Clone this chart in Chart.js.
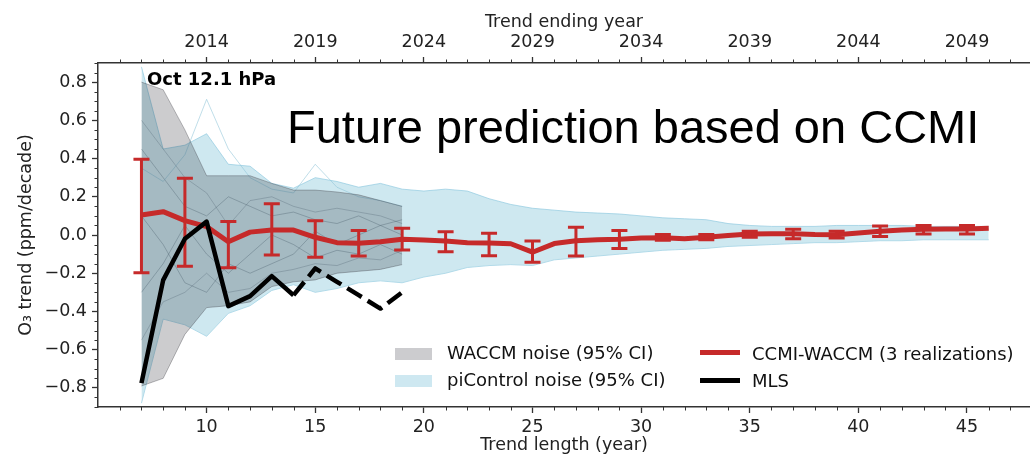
<!DOCTYPE html>
<html>
<head>
<meta charset="utf-8">
<script src="https://cdn.jsdelivr.net/npm/chart.js@4.4.1/dist/chart.umd.min.js"></script>
<style>
  html, body { margin: 0; padding: 0; background: #fff; }
  #wrap { position: relative; width: 1030px; height: 461px; overflow: hidden; }
  #wrap canvas { position: absolute; left: 0; top: 0; }
  .note { position: absolute; white-space: nowrap; color: #000; }
  #panel { left: 147px; top: 70px; font: bold 18px/18px "DejaVu Sans"; }
  #headline { left: 287px; top: 103px; font: 47px/47px "Liberation Sans", Arial, sans-serif; }
  .leg { position: absolute; white-space: nowrap; font: 18px/20px "DejaVu Sans"; color: #111; }
  .sw { position: absolute; }
</style>
</head>
<body>
<div id="wrap">
  <canvas id="ozoneChart" width="1030" height="461"></canvas>
  <div class="note" id="panel">Oct 12.1 hPa</div>
  <div class="note" id="headline">Future prediction based on CCMI</div>

  <div class="sw" style="left:395px;top:348px;width:37px;height:12px;background:rgb(204,204,207)"></div>
  <div class="leg" style="left:447px;top:343px">WACCM noise (95% CI)</div>
  <div class="sw" style="left:395px;top:375px;width:37px;height:12px;background:rgb(206,232,241)"></div>
  <div class="leg" style="left:447px;top:370px">piControl noise (95% CI)</div>

  <div class="sw" style="left:700px;top:350px;width:40px;height:5px;background:#c62a2a"></div>
  <div class="leg" style="left:752px;top:344px">CCMI-WACCM (3 realizations)</div>
  <div class="sw" style="left:700px;top:378px;width:40px;height:5px;background:#000"></div>
  <div class="leg" style="left:752px;top:371px">MLS</div>
</div>

<script>
// trend length (years) and values, ppm/decade
const trendLength = [7, 8, 9, 10, 11, 12, 13, 14, 15, 16, 17, 18, 19, 20, 21, 22, 23, 24, 25, 26,
                     27, 28, 29, 30, 31, 32, 33, 34, 35, 36, 37, 38, 39, 40, 41, 42, 43, 44, 45, 46];

const ccmiWaccm = [0.105, 0.122, 0.075, 0.044, -0.035, 0.015, 0.026, 0.026, -0.012, -0.04,
                   -0.043, -0.035, -0.022, -0.026, -0.032, -0.04, -0.042, -0.046, -0.09, -0.045,
                   -0.03, -0.025, -0.022, -0.016, -0.014, -0.02, -0.012, -0.003, 0.005, 0.006,
                   0.006, 0.002, 0.001, 0.01, 0.02, 0.026, 0.03, 0.031, 0.031, 0.035];

const errLength = [7, 9, 11, 13, 15, 17, 19, 21, 23, 25, 27, 29, 31, 33, 35, 37, 39, 41, 43, 45];
const errLow  = [-0.198, -0.163, -0.171, -0.105, -0.117, -0.11, -0.079, -0.088, -0.108, -0.143,
                 -0.11, -0.07, -0.028, -0.025, -0.012, -0.019, -0.016, -0.008, 0.005, 0.005];
const errHigh = [0.397, 0.297, 0.07, 0.163, 0.075, 0.023, 0.035, 0.017, 0.009, -0.031,
                 0.04, 0.023, 0.003, 0.002, 0.019, 0.03, 0.019, 0.047, 0.05, 0.05];

const mlsLength = [7, 8, 9, 10, 11, 12, 13, 14];
const mlsSolid = [-0.775, -0.236, -0.02, 0.07, -0.372, -0.32, -0.215, -0.315];
const mlsDashLength = [14, 15, 16, 17, 18, 19];
const mlsDashed = [-0.315, -0.175, -0.245, -0.315, -0.385, -0.30];

const waccmLength = [7, 8, 9, 10, 11, 12, 13, 14, 15, 16, 17, 18, 19];
const waccmUpper = [0.80, 0.76, 0.55, 0.31, 0.31, 0.31, 0.27, 0.235, 0.235, 0.225, 0.21, 0.18, 0.15];
const waccmLower = [-0.79, -0.75, -0.52, -0.38, -0.37, -0.35, -0.27, -0.245, -0.235, -0.2, -0.19, -0.18, -0.155];

const piUpper = [0.88, 0.45, 0.47, 0.53, 0.37, 0.36, 0.27, 0.245, 0.30, 0.28,
                 0.25, 0.27, 0.24, 0.23, 0.24, 0.23, 0.19, 0.16, 0.14, 0.13,
                 0.12, 0.115, 0.11, 0.10, 0.09, 0.085, 0.08, 0.06, 0.05, 0.045,
                 0.045, 0.045, 0.05, 0.05, 0.05, 0.05, 0.045, 0.045, 0.045, 0.045];
const piLower = [-0.88, -0.44, -0.47, -0.53, -0.41, -0.37, -0.29, -0.26, -0.30, -0.28,
                 -0.25, -0.24, -0.25, -0.22, -0.20, -0.17, -0.16, -0.155, -0.16, -0.13,
                 -0.12, -0.11, -0.10, -0.09, -0.08, -0.075, -0.07, -0.06, -0.055, -0.05,
                 -0.045, -0.04, -0.04, -0.035, -0.03, -0.03, -0.025, -0.025, -0.025, -0.025];

// a few of the faint single-member lines behind the bands
const memberLength = [7, 8, 9, 10, 11, 12, 13, 14, 15, 16, 17, 18, 19];
const memberPeak = [0.35, 0.28, 0.42, 0.71, 0.45, 0.30, 0.24, 0.22, 0.37, 0.25, 0.20, 0.18, 0.15];
const memberA = [0.45, 0.30, 0.15, 0.10, 0.20, 0.15, 0.10, 0.12, 0.08, 0.06, 0.10, 0.05, 0.08];
const memberB = [-0.30, -0.15, 0.05, -0.10, -0.20, -0.10, 0.00, -0.05, -0.12, -0.08, -0.10, -0.05, -0.10];
const memberC = [0.10, -0.05, -0.25, -0.30, -0.15, -0.20, -0.15, -0.10, 0.02, -0.05, 0.0, 0.05, 0.0];
const memberD = [0.60, 0.45, 0.30, 0.22, 0.05, 0.18, 0.20, 0.15, 0.12, 0.14, 0.12, 0.10, 0.06];
const memberE = [-0.55, -0.35, -0.30, -0.20, -0.30, -0.28, -0.20, -0.18, -0.15, -0.16, -0.12, -0.13, -0.08];

const bottomTicks = [10, 15, 20, 25, 30, 35, 40, 45];
const yTicks = [-0.8, -0.6, -0.4, -0.2, 0, 0.2, 0.4, 0.6, 0.8];
const startYear = 2004; // trend ending year = start + length

const red = "#c62a2a";
const axisColor = "#333";
const labelColor = "#222";
const tickFont = { family: "DejaVu Sans", size: 17.5 };

const pts = (xs, ys) => xs.map((x, i) => ({ x: x, y: ys[i] }));
const fmt = v => (v < 0 ? "\u2212" : "") + Math.abs(v).toFixed(1);

const errorBars = {
    id: "errorBars",
    afterDatasetDraw(chart, args) {
        if (chart.data.datasets[args.index].label !== "CCMI-WACCM") return;
        const { ctx, scales: { x, y } } = chart;
        ctx.save();
        ctx.strokeStyle = red;
        ctx.lineWidth = 3;
        errLength.forEach((len, i) => {
            const px = x.getPixelForValue(len);
            const lo = y.getPixelForValue(errLow[i]);
            const hi = y.getPixelForValue(errHigh[i]);
            ctx.beginPath();
            ctx.moveTo(px, lo); ctx.lineTo(px, hi);
            ctx.moveTo(px - 8, lo); ctx.lineTo(px + 8, lo);
            ctx.moveTo(px - 8, hi); ctx.lineTo(px + 8, hi);
            ctx.stroke();
        });
        ctx.restore();
    }
};

const minorTicks = {
    id: "minorTicks",
    afterDraw(chart) {
        const { ctx, chartArea: a, scales: { x, y } } = chart;
        ctx.save();
        ctx.strokeStyle = axisColor;
        ctx.lineWidth = 1;
        ctx.beginPath();
        for (let v = 6; v <= 47; v++) {
            if (v % 5 === 0) continue;
            const px = Math.round(x.getPixelForValue(v)) + 0.5;
            ctx.moveTo(px, a.bottom); ctx.lineTo(px, a.bottom + 3.5);
            ctx.moveTo(px, a.top); ctx.lineTo(px, a.top - 3.5);
        }
        for (let k = -18; k <= 18; k++) {
            if (k % 4 === 0) continue;
            const py = Math.round(y.getPixelForValue(k * 0.05)) + 0.5;
            ctx.moveTo(a.left, py); ctx.lineTo(a.left - 3.5, py);
        }
        ctx.stroke();
        ctx.restore();
    }
};

const member = (data, color) => ({
    label: "member", data: data, borderColor: color, borderWidth: 1, fill: false, order: 3
});

Chart.defaults.font.family = "DejaVu Sans";

new Chart(document.getElementById("ozoneChart"), {
    type: "line",
    data: {
        datasets: [
            { label: "MLS", data: pts(mlsLength, mlsSolid), borderColor: "#000", borderWidth: 4.5, order: 0 },
            { label: "MLS dashed", data: pts(mlsDashLength, mlsDashed), borderColor: "#000", borderWidth: 4.5,
              borderDash: [17, 7], borderCapStyle: "butt", order: 0 },
            { label: "CCMI-WACCM", data: pts(trendLength, ccmiWaccm), borderColor: red, borderWidth: 5, order: 1 },
            { label: "WACCM upper", data: pts(waccmLength, waccmUpper), borderColor: "rgba(60,60,70,0.35)",
              borderWidth: 1, backgroundColor: "rgba(0,0,8,0.2)", fill: "+1", order: 2 },
            { label: "WACCM lower", data: pts(waccmLength, waccmLower), borderColor: "rgba(60,60,70,0.35)",
              borderWidth: 1, fill: false, order: 2 },
            member(pts(memberLength, memberPeak), "rgba(140,195,215,0.55)"),
            member(pts(memberLength, memberA), "rgba(70,95,110,0.3)"),
            member(pts(memberLength, memberB), "rgba(70,95,110,0.3)"),
            member(pts(memberLength, memberC), "rgba(70,95,110,0.3)"),
            member(pts(memberLength, memberD), "rgba(70,95,110,0.25)"),
            member(pts(memberLength, memberE), "rgba(70,95,110,0.25)"),
            { label: "piControl upper", data: pts(trendLength, piUpper), borderColor: "rgba(130,195,220,0.6)",
              borderWidth: 1, backgroundColor: "rgba(173,216,230,0.6)", fill: "+1", order: 4 },
            { label: "piControl lower", data: pts(trendLength, piLower), borderColor: "rgba(130,195,220,0.6)",
              borderWidth: 1, fill: false, order: 4 }
        ]
    },
    options: {
        responsive: false,
        animation: false,
        layout: { padding: 0 },
        elements: { point: { radius: 0 }, line: { tension: 0, borderJoinStyle: "round" } },
        plugins: { legend: { display: false }, tooltip: { enabled: false } },
        scales: {
            x: {
                type: "linear", position: "bottom", min: 5, max: 47.9,
                afterBuildTicks: s => { s.ticks = bottomTicks.map(v => ({ value: v })); },
                afterFit: s => { s.height = 54; },
                grid: { drawOnChartArea: false, tickLength: 6, tickColor: axisColor, tickWidth: 1.3 },
                border: { color: axisColor, width: 1.5 },
                ticks: { font: tickFont, color: labelColor, padding: 4, maxRotation: 0, autoSkip: false },
                title: { display: true, text: "Trend length (year)", font: tickFont, color: labelColor,
                         padding: { top: 0, bottom: 5 } }
            },
            x2: {
                type: "linear", position: "top", min: 5, max: 47.9,
                afterBuildTicks: s => { s.ticks = bottomTicks.map(v => ({ value: v })); },
                afterFit: s => { s.height = 63; },
                grid: { drawOnChartArea: false, tickLength: 6, tickColor: axisColor, tickWidth: 1.3 },
                border: { color: axisColor, width: 1.5 },
                ticks: { font: tickFont, color: labelColor, padding: 4, maxRotation: 0, autoSkip: false,
                         callback: v => String(v + startYear) },
                title: { display: true, text: "Trend ending year", font: tickFont, color: labelColor,
                         padding: { top: 12, bottom: 0 } }
            },
            y: {
                min: -0.9, max: 0.9,
                afterBuildTicks: s => { s.ticks = yTicks.map(v => ({ value: v })); },
                afterFit: s => { s.width = 98; },
                grid: { drawOnChartArea: false, tickLength: 6, tickColor: axisColor, tickWidth: 1.3 },
                border: { color: axisColor, width: 1.5 },
                ticks: { font: tickFont, color: labelColor, padding: 5, callback: v => fmt(v) },
                title: { display: true, text: "O\u2083 trend (ppm/decade)", font: tickFont, color: labelColor,
                         padding: { top: 16, bottom: 0 } }
            }
        }
    },
    plugins: [errorBars, minorTicks]
});
</script>
</body>
</html>
